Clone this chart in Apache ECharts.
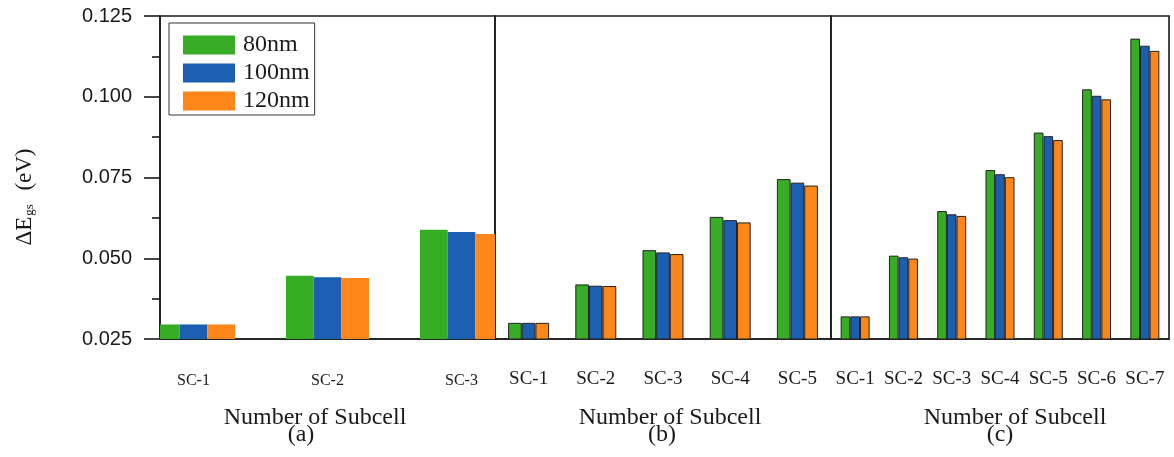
<!DOCTYPE html>
<html>
<head>
<meta charset="utf-8">
<script src="https://cdn.jsdelivr.net/npm/echarts@6/dist/echarts.min.js"></script>
<style>
  html, body { margin: 0; padding: 0; background: #ffffff; }
  #chart { width: 1174px; height: 457px; }
</style>
</head>
<body>
<div id="chart"></div>
<script>
// Sample thicknesses and bar colours
const seriesNames = ['80nm', '100nm', '120nm'];
const seriesColors = ['#37ad25', '#1c5eb0', '#ff8618'];

// Panel (a): three subcells, placed on a numeric axis
const posA = [1, 2, 3];
const labelsA = ['SC-1', 'SC-2', 'SC-3'];
const a80  = [0.0295, 0.0446, 0.0588];
const a100 = [0.0295, 0.0441, 0.0581];
const a120 = [0.0295, 0.0439, 0.0575];

// Panel (b): five subcells
const catsB = ['SC-1', 'SC-2', 'SC-3', 'SC-4', 'SC-5'];
const b80  = [0.0300, 0.0419, 0.0525, 0.0628, 0.0745];
const b100 = [0.0300, 0.0415, 0.0518, 0.0618, 0.0734];
const b120 = [0.0300, 0.0414, 0.0513, 0.0611, 0.0725];

// Panel (c): seven subcells
const catsC = ['SC-1', 'SC-2', 'SC-3', 'SC-4', 'SC-5', 'SC-6', 'SC-7'];
const c80  = [0.0320, 0.0508, 0.0646, 0.0773, 0.0889, 0.1023, 0.1180];
const c100 = [0.0320, 0.0503, 0.0636, 0.0760, 0.0878, 0.1003, 0.1158];
const c120 = [0.0320, 0.0499, 0.0631, 0.0751, 0.0866, 0.0992, 0.1142];

// Energy axis ticks
const yMin = 0.025, yMax = 0.125, yStep = 0.025;

const serif = 'Liberation Serif';
const sans = 'Liberation Sans';
const ink = '#1a1a1a';

const chart = echarts.init(document.getElementById('chart'), null, { renderer: 'canvas' });

const gridBase = { top: 16, bottom: 118, show: true, borderColor: ink, borderWidth: 1.6, backgroundColor: 'transparent', containLabel: false };

function hiddenY(idx) {
  return {
    type: 'value', gridIndex: idx, min: yMin, max: yMax, interval: yStep,
    axisLine: { show: false }, axisTick: { show: false }, axisLabel: { show: false },
    splitLine: { show: false }
  };
}

function xName(text, padding) {
  return {
    name: text, nameLocation: 'middle', nameGap: 67,
    nameTextStyle: { fontFamily: serif, fontSize: 24, color: ink, padding: padding }
  };
}

// Grouped bars on the numeric axis of panel (a), clipped to the panel frame
function groupedBar(k) {
  const groupShare = 0.62;
  return function (params, api) {
    const x = api.value(0);
    const v = api.value(1);
    const band = api.size([1, 0])[0];
    const groupW = band * groupShare;
    const barW = groupW / 3;
    const base = api.coord([x, yMin]);
    const top = api.coord([x, v]);
    return {
      type: 'rect',
      shape: { x: base[0] - groupW / 2 + k * barW, y: top[1], width: barW, height: base[1] - top[1] },
      style: { fill: seriesColors[k] }
    };
  };
}

const series = [];
const valuesA = [a80, a100, a120];
const valuesB = [b80, b100, b120];
const valuesC = [c80, c100, c120];
seriesNames.forEach((name, k) => {
  series.push({
    name: name, type: 'custom', xAxisIndex: 0, yAxisIndex: 0,
    clip: true,
    itemStyle: { color: seriesColors[k] },
    renderItem: groupedBar(k),
    encode: { x: 0, y: 1 },
    data: posA.map((p, i) => [p, valuesA[k][i]])
  });
});
seriesNames.forEach((name, k) => {
  series.push({
    name: name, type: 'bar', xAxisIndex: 1, yAxisIndex: 1,
    barGap: '0%', barCategoryGap: '39%',
    itemStyle: { color: seriesColors[k], borderColor: '#222', borderWidth: 1 },
    data: valuesB[k]
  });
});
seriesNames.forEach((name, k) => {
  series.push({
    name: name, type: 'bar', xAxisIndex: 2, yAxisIndex: 2,
    barGap: '0%', barCategoryGap: '40%',
    itemStyle: { color: seriesColors[k], borderColor: '#222', borderWidth: 1 },
    data: valuesC[k]
  });
});

const option = {
  backgroundColor: '#ffffff',
  animation: false,
  grid: [
    Object.assign({ left: 160, width: 335 }, gridBase),
    Object.assign({ left: 495, width: 336 }, gridBase),
    Object.assign({ left: 831, width: 338 }, gridBase)
  ],
  legend: {
    data: seriesNames.map((n, k) => ({ name: n, itemStyle: { color: seriesColors[k], borderWidth: 0 } })),
    orient: 'vertical',
    left: 169, top: 23,
    itemWidth: 52, itemHeight: 19, itemGap: 4,
    padding: [10, 5, 2, 14],
    borderColor: '#333', borderWidth: 1,
    backgroundColor: '#ffffff',
    icon: 'rect',
    selectedMode: false,
    textStyle: { fontFamily: serif, fontSize: 24, color: ink, lineHeight: 24, padding: [0, 0, 0, 3] }
  },
  xAxis: [
    Object.assign({
      type: 'value', gridIndex: 0, min: 0.75, max: 3.25,
      axisLine: { show: true, lineStyle: { color: ink, width: 1.6 } },
      axisTick: { show: false },
      splitLine: { show: false },
      axisLabel: {
        customValues: posA,
        formatter: v => labelsA[posA.indexOf(v)] || '',
        fontFamily: serif, fontSize: 16, color: ink, margin: 34
      }
    }, xName('Number of Subcell', [0, 25, 0, 0])),
    Object.assign({
      type: 'category', gridIndex: 1, data: catsB,
      axisLine: { show: true, lineStyle: { color: ink, width: 1.6 } },
      axisTick: { show: false },
      axisLabel: { fontFamily: serif, fontSize: 19, color: ink, margin: 31, interval: 0 }
    }, xName('Number of Subcell', [0, 0, 0, 14])),
    Object.assign({
      type: 'category', gridIndex: 2, data: catsC,
      axisLine: { show: true, lineStyle: { color: ink, width: 1.6 } },
      axisTick: { show: false },
      axisLabel: { fontFamily: serif, fontSize: 19, color: ink, margin: 31, interval: 0 }
    }, xName('Number of Subcell', [0, 0, 0, 30]))
  ],
  yAxis: [
    {
      type: 'value', gridIndex: 0, min: yMin, max: yMax, interval: yStep,
      axisLine: { show: true, lineStyle: { color: ink, width: 1.6 } },
      axisTick: { show: true, inside: false, length: 16, lineStyle: { color: ink, width: 1.6 } },
      minorTick: { show: true, splitNumber: 2, length: 8, lineStyle: { color: ink, width: 1.6 } },
      axisLabel: { formatter: v => v.toFixed(3), fontFamily: sans, fontSize: 20, color: ink, margin: 28 },
      splitLine: { show: false }
    },
    hiddenY(1),
    hiddenY(2)
  ],
  graphic: [
    {
      type: 'text', x: 25, y: 197, rotation: Math.PI / 2,
      style: {
        text: '{m|ΔE}{s|gs}{m|  (eV)}',
        align: 'center', verticalAlign: 'middle',
        rich: {
          m: { fontFamily: serif, fontSize: 23, fill: ink },
          s: { fontFamily: serif, fontSize: 13, fill: ink, padding: [10, 2, 0, 1] }
        }
      }
    },
    { type: 'text', x: 301, y: 435, style: { text: '(a)', font: '24px "Liberation Serif"', fill: ink, align: 'center', verticalAlign: 'middle' } },
    { type: 'text', x: 662, y: 435, style: { text: '(b)', font: '24px "Liberation Serif"', fill: ink, align: 'center', verticalAlign: 'middle' } },
    { type: 'text', x: 1000, y: 435, style: { text: '(c)', font: '24px "Liberation Serif"', fill: ink, align: 'center', verticalAlign: 'middle' } }
  ],
  series: series
};

chart.setOption(option);
</script>
</body>
</html>
